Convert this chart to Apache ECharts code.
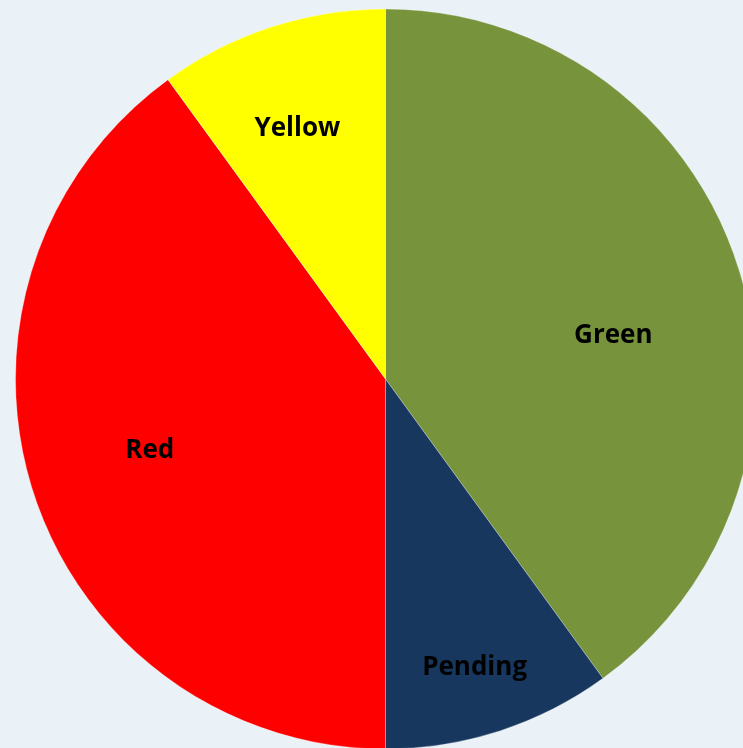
<!DOCTYPE html>
<html>
<head>
<meta charset="utf-8">
<script src="https://cdn.jsdelivr.net/npm/echarts@6/dist/echarts.min.js"></script>
<style>
html,body{margin:0;padding:0;background:#EBF2F7;}
#c{width:743px;height:748px;}
</style>
</head>
<body>
<div id="c"></div>
<script>
var categories = ['Green', 'Pending', 'Red', 'Yellow'];
var values = [40, 10, 40, 10];
var colors = ['#77933C', '#17375E', '#FF0000', '#FFFF00'];
var labelShift = [[49, 15], [31, 110], [-57, 13], [-30, -72]];

var chart = echarts.init(document.getElementById('c'), null, {renderer: 'canvas'});
chart.setOption({
  backgroundColor: '#EBF2F7',
  animation: false,
  series: [{
    type: 'pie',
    center: [385.5, 379],
    radius: 370,
    startAngle: 90,
    clockwise: true,
    avoidLabelOverlap: false,
    itemStyle: {borderColor: 'rgba(255,255,255,0.6)', borderWidth: 0.5},
    label: {
      show: true,
      position: 'inside',
      formatter: '{b}',
      color: '#000',
      fontFamily: 'Open Sans',
      fontWeight: 'bold',
      fontSize: 26
    },
    labelLine: {show: false},
    emphasis: {disabled: true},
    labelLayout: function (p) {
      var s = labelShift[p.dataIndex];
      return {dx: s[0], dy: s[1]};
    },
    data: categories.map(function (n, i) {
      return {name: n, value: values[i], itemStyle: {color: colors[i]}};
    })
  }]
});
</script>
</body>
</html>
